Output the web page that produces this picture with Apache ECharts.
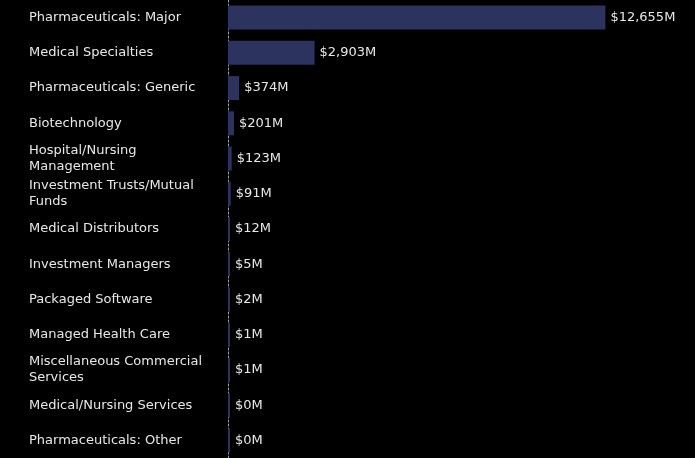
<!DOCTYPE html>
<html>
<head>
<meta charset="utf-8">
<script src="https://cdn.jsdelivr.net/npm/echarts@6/dist/echarts.min.js"></script>
<style>
  html, body { margin: 0; padding: 0; background: #000; }
  #main { width: 695px; height: 458px; }
</style>
</head>
<body>
<div id="main"></div>
<script>
// sectors and their value in $M
const categories = [
  "Pharmaceuticals: Major",
  "Medical Specialties",
  "Pharmaceuticals: Generic",
  "Biotechnology",
  "Hospital/Nursing Management",
  "Investment Trusts/Mutual Funds",
  "Medical Distributors",
  "Investment Managers",
  "Packaged Software",
  "Managed Health Care",
  "Miscellaneous Commercial Services",
  "Medical/Nursing Services",
  "Pharmaceuticals: Other"
];
const values = [12655, 2903, 374, 201, 123, 91, 12, 5, 2, 1, 1, 0, 0];

const chart = echarts.init(document.getElementById("main"));
const fontFamily = "DejaVu Sans";

const option = {
  backgroundColor: "#000",
  animation: false,
  grid: { left: 228, right: 0, top: 0, bottom: 0, containLabel: false },
  xAxis: {
    type: "value",
    min: 0,
    max: 15660,
    show: false
  },
  yAxis: {
    type: "category",
    data: categories,
    inverse: true,
    offset: 1,
    axisLine: {
      show: true,
      lineStyle: { color: "#a0a0a0", type: [2, 2], width: 1 }
    },
    axisTick: { show: false },
    axisLabel: {
      align: "left",
      margin: 198,
      width: 185,
      overflow: "break",
      color: "#e8e8e8",
      fontFamily: fontFamily,
      fontSize: 13,
      lineHeight: 16
    }
  },
  series: [
    {
      type: "bar",
      data: values,
      barWidth: 24,
      barMinHeight: 2,
      itemStyle: { color: "#2c335f" },
      label: {
        show: true,
        position: "right",
        distance: 5,
        color: "#e8e8e8",
        fontFamily: fontFamily,
        fontSize: 13,
        formatter: function (p) {
          return "$" + p.value.toLocaleString("en-US") + "M";
        }
      }
    }
  ]
};
chart.setOption(option);
</script>
</body>
</html>
